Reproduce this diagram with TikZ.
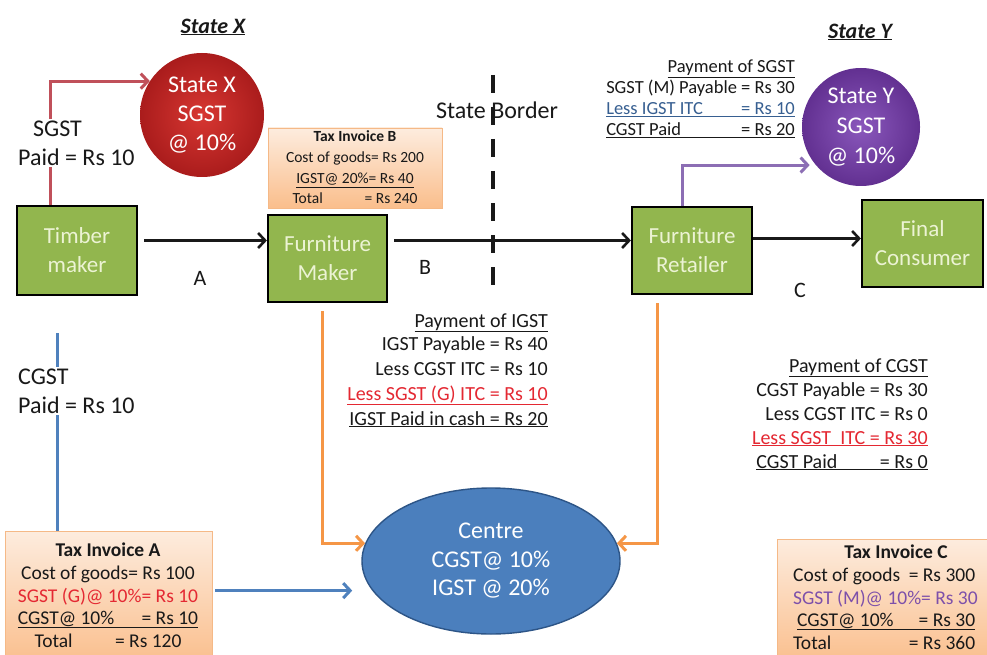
\documentclass[tikz,border=0pt]{standalone}
\usepackage{fontspec}
\usepackage{calc}
\setmainfont{Carlito}
\usetikzlibrary{arrows.meta,shapes.geometric,calc}

\definecolor{boxgreen}{RGB}{146,182,78}
\definecolor{boxtext}{RGB}{236,243,212}
\definecolor{redin}{RGB}{215,55,50}
\definecolor{redout}{RGB}{170,28,28}
\definecolor{redline}{RGB}{192,80,90}
\definecolor{purin}{RGB}{138,88,188}
\definecolor{purout}{RGB}{98,48,145}
\definecolor{purline}{RGB}{140,110,180}
\definecolor{bluefill}{RGB}{75,127,189}
\definecolor{blueedge}{RGB}{45,85,135}
\definecolor{blueline}{RGB}{79,129,189}
\definecolor{orline}{RGB}{245,150,70}
\definecolor{invtop}{RGB}{253,236,222}
\definecolor{invbot}{RGB}{250,190,140}
\definecolor{invedge}{RGB}{245,185,135}
\definecolor{txtred}{RGB}{228,40,50}
\definecolor{txtpur}{RGB}{125,80,170}
\definecolor{txtblue}{RGB}{55,95,145}
\definecolor{ink}{RGB}{25,25,25}

\newcommand\fsz[2]{\fontsize{#1}{#2}\selectfont}

\begin{document}
\begin{tikzpicture}[x=1pt,y=-1pt,
  gbox/.style={draw=black, line width=2.2pt, fill=boxgreen, text=boxtext,
    align=center, inner sep=0pt, font=\fsz{23}{29}},
  inv/.style={draw=invedge, line width=0.8pt, top color=invtop,
    bottom color=invbot, inner sep=0pt},
  ln/.style={inner sep=0pt, anchor=base, text=ink},
  lnr/.style={inner sep=0pt, anchor=base east, text=ink},
  lnl/.style={inner sep=0pt, anchor=base west, text=ink},
  flow/.style={line width=2.6pt, draw=ink, -{Straight Barb[length=7pt,width=15pt]}},
  feed/.style={line width=3pt, -{Straight Barb[length=7pt,width=15pt]}},
  note/.style={fill=white, inner sep=2pt, align=left, text=ink, font=\fsz{24}{29}}]

\useasboundingbox (0,0) rectangle (987,655);
\fill[white] (0,0) rectangle (987,655);

% ---- state titles and border ----
\node[text=ink, font=\fsz{22}{26}\bfseries\itshape] (tx) at (213,27) {\underline{State X}};
\node[text=ink, font=\fsz{22}{26}\bfseries\itshape] (ty) at (860,32) {\underline{State Y}};
\coordinate (bt) at (493,75);
\coordinate (bb) at (493,285);
\draw[line width=4pt, draw=ink, dash pattern=on 18pt off 14pt] (bt) -- (bb);
\node[text=ink, inner sep=0pt, font=\fsz{24}{28}] (border) at (497,110) {State Border};

% ---- supply chain ----
\node[gbox, minimum width=120pt, minimum height=89pt] (timber) at (77,250.5) {Timber\\maker};
\node[gbox, minimum width=119pt, minimum height=87pt] (fm) at (327.5,258.5) {Furniture\\Maker};
\node[gbox, minimum width=120pt, minimum height=87pt] (retailer) at (692,250.5) {Furniture\\Retailer};
\node[gbox, minimum width=121pt, minimum height=87pt] (consumer) at (922.5,243.5) {Final\\Consumer};

\coordinate (pa) at ([shift={(6,-10)}]timber.east);
\draw[flow] (pa) -- (pa -| fm.west);
\coordinate (pb) at ([shift={(6,-18)}]fm.east);
\draw[flow] (pb) -- (pb -| retailer.west);
\coordinate (pc) at ([shift={(0,-12)}]retailer.east);
\draw[flow] (pc) -- (pc -| consumer.west);

\node[text=ink, font=\fsz{22}{26}] (la) at (200,278) {A};
\node[text=ink, font=\fsz{22}{26}] (lb) at (425,267) {B};
\node[text=ink, font=\fsz{22}{26}] (lc) at (800,290) {C};

% ---- tax authorities ----
\node[circle, minimum size=124pt, inner sep=0pt, inner color=redin, outer color=redout,
  text=white, align=center, font=\fsz{24}{29}] (sx) at (202,115) {State X\\SGST\\@ 10\%};
\node[circle, minimum size=118pt, inner sep=0pt, inner color=purin, outer color=purout,
  text=white, align=center, font=\fsz{24}{30}] (sy) at (861,127) {State Y\\SGST\\@ 10\%};
\node[ellipse, minimum width=258pt, minimum height=146pt, inner sep=0pt, fill=bluefill,
  draw=blueedge, line width=1.4pt, text=white, align=center, font=\fsz{24}{28.5}]
  (cen) at (491,561) {Centre\\CGST@ 10\%\\IGST @ 20\%};

% ---- tax flows ----
\draw[feed, draw=redline] ([xshift=-27pt]timber.north) |- (sx.147);
\node[note, anchor=west] (sgstx) at (16,143) {\hspace*{15pt}SGST\\Paid = Rs 10};

\draw[feed, draw=purline, shorten >=6pt] ([xshift=-10pt]retailer.north) |- (sy.220);

\draw[feed, draw=orline] ([shift={(-5,8)}]fm.south) |- (cen.172);
\draw[feed, draw=orline] ([shift={(-35,8)}]retailer.south) |- (cen.8);

% ---- tax invoices ----
\node[inv, minimum width=174pt, minimum height=80pt] (invB) at (355,168) {};
\node[inv, minimum width=207pt, minimum height=134pt] (invA) at (108.5,598) {};
\node[inv, minimum width=218pt, minimum height=126pt] (invC) at (886,602) {};

\coordinate (cg) at (57,333);
\draw[line width=3pt, draw=blueline] (cg) -- (cg |- invA.north);
\node[note, anchor=west] (cgstx) at (16,391) {CGST\\Paid = Rs 10};
\draw[feed, draw=blueline, shorten <=3pt, shorten >=20pt] (invA.east |- cen.194) -- (cen.194);

% invoice B
\begin{scope}[every node/.style={ln, font=\fsz{15.5}{18}}]
\node (b1) at (355,142) {\bfseries Tax Invoice B};
\node (b2) at (355,163) {Cost of goods= Rs 200};
\node (b3) at (355,184) {\underline{IGST@ 20\%= Rs 40}};
\node (b4) at (355,204) {\makebox[125pt][l]{Total\hfill= Rs 240}};
\end{scope}

% invoice A
\begin{scope}[every node/.style={ln, font=\fsz{19.5}{23}}]
\node (a1) at (108,556) {\bfseries Tax Invoice A};
\node (a2) at (108,579) {Cost of goods= Rs 100};
\node[text=txtred] (a3) at (108,602) {SGST (G)@ 10\%= Rs 10};
\node (a4) at (108,624) {\underline{\makebox[\widthof{SGST (G)@ 10\%= Rs 10}][l]{CGST@ 10\%\hfill= Rs 10}}};
\node (a5) at (108,647) {\makebox[147pt][l]{Total\hfill= Rs 120}};
\end{scope}

% invoice C
\begin{scope}[every node/.style={lnl, font=\fsz{19.5}{23}}]
\node[ln] (c1) at (896,558) {\bfseries Tax Invoice C};
\node (c2) at (793,581) {\makebox[182pt][l]{Cost of goods\hfill= Rs 300}};
\node[text=txtpur] (c3) at (793,604) {\makebox[177pt][l]{SGST (M)@ 10\%\hfill= Rs 30}};
\node (c4) at (797,626) {\underline{\makebox[178pt][l]{CGST@ 10\%\hfill= Rs 30}}};
\node (c5) at (793,649) {\makebox[182pt][l]{Total\hfill= Rs 360}};
\end{scope}

% ---- payment statements ----
\begin{scope}[every node/.style={lnr, font=\fsz{18.5}{21}}]
\node (s1) at (795,73) {\underline{Payment of SGST}};
\node (s2) at (795,94) {SGST (M) Payable = Rs 30};
\node[text=txtblue] (s3) at (795,115) {\underline{\makebox[\widthof{SGST (M) Payable = Rs 30}][l]{Less IGST ITC\hfill= Rs 10}}};
\node (s4) at (795,136) {\underline{\makebox[\widthof{SGST (M) Payable = Rs 30}][l]{CGST Paid\hfill= Rs 20}}};
\end{scope}

\begin{scope}[every node/.style={lnr, font=\fsz{20}{24}}]
\node (i1) at (548,327) {\underline{Payment of IGST}};
\node (i2) at (548,350) {IGST Payable = Rs 40};
\node (i3) at (548,375) {Less CGST ITC = Rs 10};
\node[text=txtred] (i4) at (548,400) {\underline{Less SGST (G) ITC = Rs 10}};
\node (i5) at (548,425) {\underline{IGST Paid in cash = Rs 20}};
\end{scope}

\begin{scope}[every node/.style={lnr, font=\fsz{20}{24}}]
\node (g1) at (928,372) {\underline{Payment of CGST}};
\node (g2) at (928,396) {CGST Payable = Rs 30};
\node (g3) at (928,420) {Less CGST ITC = Rs 0};
\node[text=txtred] (g4) at (928,444) {\underline{Less SGST\ \ ITC = Rs 30}};
\node (g5) at (928,468) {\underline{\makebox[\widthof{CGST Payable = Rs 30}][l]{CGST Paid\hfill= Rs 0}}};
\end{scope}

\end{tikzpicture}
\end{document}
